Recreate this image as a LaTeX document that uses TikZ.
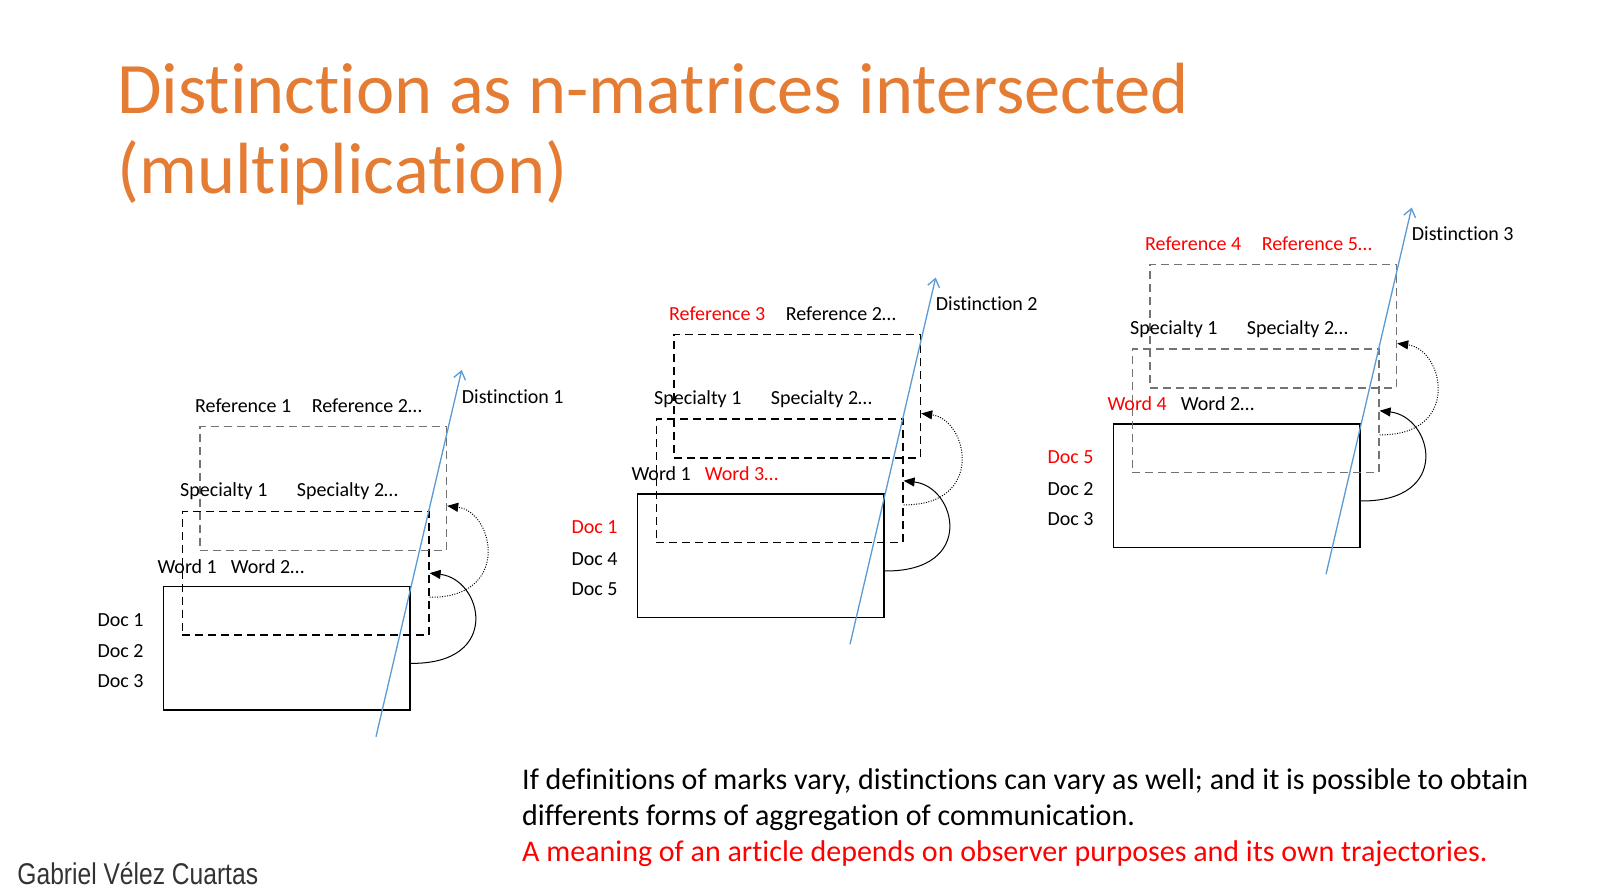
\documentclass[tikz,border=0pt]{standalone}
\usepackage{fontspec}
\setmainfont{Carlito}[Ligatures=NoCommon]
\newfontfamily\authorfont{Liberation Sans}
\usetikzlibrary{arrows.meta}
\definecolor{titlecol}{RGB}{228,124,52}
\definecolor{markred}{RGB}{255,0,0}
\definecolor{distcol}{RGB}{91,155,213}
\colorlet{dashgray}{black!55}
\tikzset{
  lbl/.style={anchor=base west, inner sep=0pt, font=\fontsize{20}{24}\selectfont},
  docbox/.style={draw, line width=1.3pt, minimum width=246.6pt,
    minimum height=123.6pt, inner sep=0pt, anchor=north west},
  dashbox/.style={docbox, line width=1.3pt, dash pattern=on 8pt off 5pt},
  flip/.style={-{Triangle[length=11pt,width=9pt]}, line width=1pt},
  distline/.style={distcol, line width=1.3pt, -{Straight Barb[length=8pt,width=12pt]}},
  note/.style={anchor=base west, inner sep=0pt, font=\fontsize{30}{36}\selectfont},
}

\begin{document}
\begin{tikzpicture}[x=1pt, y=-1pt]

  \fill[white] (0,0) rectangle (1600,893);

  % Title.
  \node[anchor=base west, inner sep=0pt, text=titlecol,
    font=\fontsize{72.5}{80}\selectfont] (title1) at (117,114)
    {Distinction as n-matrices intersected};
  \node[anchor=base west, inner sep=0pt, text=titlecol,
    font=\fontsize{72.5}{80}\selectfont] (title2) at (117,194)
    {(multiplication)};

  % Three intersected matrices, same layout shifted.
  \foreach \i/\sx/\sy/\refa/\refb/\wrda/\wrdb/\doca/\docb/\docc/\rcol/\scol in {
    1/0/0/{Reference 1}/{Reference 2…}/{Word 1}/{Word 2…}/{Doc 1}/{Doc 2}/{Doc 3}/dashgray/black,
    2/474/-92.4/{\textcolor{markred}{Reference 3}}/{Reference 2…}/{Word 1}/{\textcolor{markred}{Word 3…}}/{\textcolor{markred}{Doc 1}}/{Doc 4}/{Doc 5}/black/black,
    3/950/-162.4/{\textcolor{markred}{Reference 4}}/{\textcolor{markred}{Reference 5…}}/{\textcolor{markred}{Word 4}}/{Word 2…}/{\textcolor{markred}{Doc 5}}/{Doc 2}/{Doc 3}/dashgray/dashgray} {
  \begin{scope}[shift={(\sx,\sy)}]

    % Matrices.
    \node[docbox] (sol\i) at (162.7,585.7) {};
    \node[dashbox, draw=\scol] (spc\i) at (181.7,510.7) {};
    \node[dashbox, draw=\rcol] (ref\i) at (199.3,426) {};

    % Row and column labels.
    \node[lbl] (refa\i) at (195,412.7) {\refa};
    \node[lbl] (refb\i) at (311.7,412.7) {\refb};
    \node[lbl] (spca\i) at (180,496.7) {Specialty 1};
    \node[lbl] (spcb\i) at (296.7,496.7) {Specialty 2…};
    \node[lbl] (wrda\i) at (157.3,573.3) {\wrda};
    \node[lbl] (wrdb\i) at (230.7,573.3) {\wrdb};
    \node[lbl] (doca\i) at (97.3,626) {\doca};
    \node[lbl] (docb\i) at (97.3,657.7) {\docb};
    \node[lbl] (docc\i) at (97.3,687.7) {\docc};
    \node[lbl] (dist\i) at (461.7,403.3) {Distinction \i};

    % Multiplication arcs.
    \draw[flip] (sol\i.-7) .. controls +(92,1) and +(53,6) .. (spc\i.east);
    \draw[flip, dash pattern=on 1pt off 1.5pt] (spc\i.-11)
      .. controls +(82,1) and +(47,6) .. (ref\i.-8);

    % Distinction axis.
    \coordinate (dlo\i) at (376,736.7);
    \coordinate (dhi\i) at (461.7,370);
    \draw[distline] (dlo\i) -- (dhi\i);
  \end{scope}
  }

  % Note.
  \node[note] (notea) at (522,789.5)
    {If definitions of marks vary, distinctions can vary as well; and it is possible to obtain};
  \node[note] (noteb) at (522,825.5)
    {differents forms of aggregation of communication.};
  \node[note, text=markred] (notec) at (522,861.5)
    {A meaning of an article depends on observer purposes and its own trajectories.};

  % Author.
  \node[anchor=base west, inner sep=0pt, text=black!80, xscale=0.82,
    font=\authorfont\fontsize{30}{34}\selectfont] (author) at (17.3,884)
    {Gabriel Vélez Cuartas};

\end{tikzpicture}
\end{document}
